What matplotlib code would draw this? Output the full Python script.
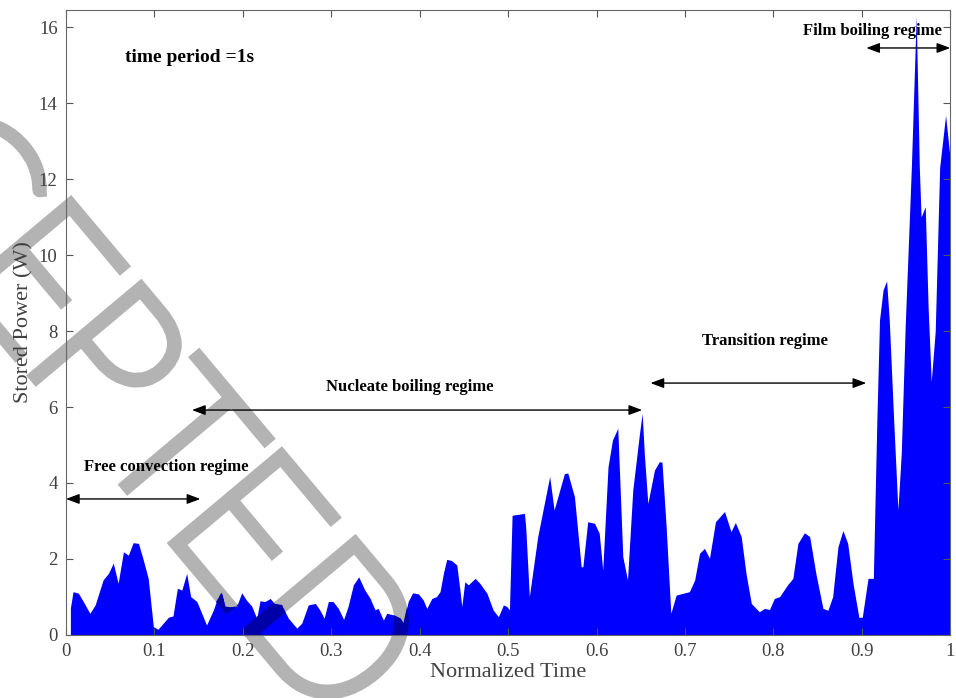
import matplotlib
matplotlib.use("Agg")
import matplotlib.pyplot as plt
import matplotlib.patheffects as pe
import numpy as np

# ---- data ----
norm_time = [
    0.005, 0.005, 0.008, 0.014, 0.0196, 0.027, 0.033, 0.042, 0.048, 0.0535, 0.059,
    0.065, 0.0705, 0.076, 0.082, 0.0875, 0.093, 0.0988, 0.104, 0.110, 0.116,
    0.121, 0.126, 0.131, 0.1365, 0.141, 0.148, 0.159, 0.1667, 0.170, 0.176,
    0.180, 0.1855, 0.193, 0.1987, 0.204, 0.210, 0.2157, 0.2195, 0.225, 0.231,
    0.236, 0.244, 0.2515, 0.261, 0.2666, 0.274, 0.282, 0.287, 0.292, 0.2967,
    0.302, 0.308, 0.314, 0.319, 0.325, 0.331, 0.338, 0.344, 0.3495, 0.353,
    0.359, 0.3627, 0.370, 0.378, 0.3816, 0.387, 0.392, 0.3986, 0.404, 0.408,
    0.4137, 0.419, 0.423, 0.4268, 0.4306, 0.436, 0.442, 0.4457, 0.4476, 0.451,
    0.455, 0.4627, 0.468, 0.476, 0.483, 0.489, 0.4947, 0.4985, 0.5015, 0.5045,
    0.507, 0.5185, 0.520, 0.524, 0.5335, 0.547, 0.552, 0.5637, 0.5675, 0.575,
    0.5826, 0.5845, 0.590, 0.5977, 0.603, 0.607, 0.613, 0.618, 0.624, 0.6297,
    0.635, 0.641, 0.6486, 0.6516, 0.654, 0.658, 0.6655, 0.671, 0.674, 0.6787,
    0.684, 0.690, 0.705, 0.711, 0.7165, 0.722, 0.7277, 0.7345, 0.7447, 0.752,
    0.757, 0.7636, 0.769, 0.775, 0.784, 0.790, 0.7956, 0.801, 0.807, 0.816,
    0.822, 0.8277, 0.835, 0.841, 0.848, 0.856, 0.8616, 0.867, 0.873, 0.8786,
    0.884, 0.890, 0.8967, 0.9005, 0.907, 0.913, 0.917, 0.920, 0.924, 0.928,
    0.931, 0.936, 0.9408, 0.9446, 0.949, 0.956, 0.9615, 0.965, 0.967, 0.9717,
    0.975, 0.9785, 0.983, 0.988, 0.9947, 1.0,
]
stored_power = [
    0.0, 0.71, 1.14, 1.10, 0.88, 0.57, 0.79, 1.45, 1.62, 1.89, 1.36,
    2.19, 2.10, 2.43, 2.41, 1.97, 1.49, 0.22, 0.15, 0.31, 0.47,
    0.50, 1.23, 1.18, 1.62, 1.01, 0.88, 0.26, 0.66, 0.88, 1.11,
    0.75, 0.73, 0.75, 1.11, 0.92, 0.76, 0.44, 0.90, 0.88, 0.96,
    0.82, 0.79, 0.44, 0.18, 0.31, 0.79, 0.83, 0.66, 0.44, 0.88,
    0.88, 0.70, 0.41, 0.75, 1.32, 1.53, 1.18, 0.96, 0.66, 0.70,
    0.39, 0.57, 0.53, 0.44, 0.31, 0.88, 1.11, 1.08, 0.92, 0.70,
    0.96, 1.01, 1.14, 1.62, 1.99, 1.96, 1.84, 1.14, 0.75, 1.40,
    1.32, 1.49, 1.36, 1.10, 0.66, 0.48, 0.79, 0.75, 0.66, 3.15,
    3.16, 3.20, 2.80, 1.01, 2.59, 4.17, 3.29, 4.25, 4.26, 3.64,
    1.80, 1.79, 2.98, 2.94, 2.68, 1.71, 4.43, 5.13, 5.44, 2.06,
    1.45, 3.82, 5.31, 5.83, 4.78, 3.46, 4.34, 4.56, 4.55, 2.85,
    0.57, 1.05, 1.14, 1.45, 2.15, 2.28, 2.02, 2.98, 3.25, 2.72,
    2.96, 2.59, 1.62, 0.83, 0.61, 0.70, 0.67, 0.96, 1.01, 1.32,
    1.49, 2.41, 2.69, 2.59, 1.62, 0.70, 0.65, 1.01, 2.32, 2.75,
    2.41, 1.36, 0.46, 0.47, 1.49, 1.49, 5.66, 8.29, 9.08, 9.32,
    8.29, 5.66, 3.29, 4.78, 8.10, 12.3, 16.3, 12.3, 11.0, 11.27,
    8.60, 6.67, 8.00, 12.3, 13.68, 12.5,
]

x_ticks = [0, 0.1, 0.2, 0.3, 0.4, 0.5, 0.6, 0.7, 0.8, 0.9, 1.0]
x_tick_labels = ["0", "0.1", "0.2", "0.3", "0.4", "0.5", "0.6", "0.7", "0.8", "0.9", "1"]
y_ticks = [0, 2, 4, 6, 8, 10, 12, 14, 16]

regimes = ["Free convection regime", "Nucleate boiling regime",
           "Transition regime", "Film boiling regime"]
regime_label_xy = [(0.113, 4.42), (0.389, 6.53), (0.79, 7.74), (0.912, 15.9)]
regime_arrow_x = [(0.0, 0.152), (0.1425, 0.6516), (0.661, 0.905), (0.905, 1.0)]
regime_arrow_y = [3.58, 5.92, 6.63, 15.45]

# visible part of the "ACCEPTED" watermark
watermark_letters = ["C", "E", "P", "T", "E", "D"]
watermark_offsets = [-338, -218, -111, 0, 110, 242]   # px along the baseline from the "T"

# ---- figure ----
W, H = 956, 698
plt.rcParams["font.family"] = ["Liberation Serif", "DejaVu Serif"]
fig = plt.figure(figsize=(W / 100, H / 100), dpi=100)
ax = fig.add_axes([0.069, 0.0903, 0.925, 0.8954])

fill = ax.fill_between(norm_time, stored_power, 0, color="#0000ff", linewidth=0, zorder=1)

ax.set_xlim(0, 1)
ax.set_ylim(0, 16.45)
ax.set_xticks(x_ticks)
ax.set_xticklabels(x_tick_labels)
ax.set_yticks(y_ticks)
ax.tick_params(direction="in", top=True, right=True, length=5, width=0.8,
               color="#555555", labelsize=13.5, labelcolor="#404040", pad=6)
for s in ax.spines.values():
    s.set_color("#666666")
    s.set_linewidth(0.8)

ax.set_xlabel("Normalized Time", fontsize=16, color="#404040", labelpad=2)
ax.set_ylabel("Stored Power (W)", fontsize=16, color="#404040", labelpad=4)

ax.text(0.067, 15.2, "time period =1s", fontsize=14, fontweight="bold",
        ha="left", va="center", zorder=5)

for name, (tx, ty), (xa, xb), ya in zip(regimes, regime_label_xy, regime_arrow_x, regime_arrow_y):
    ax.text(tx, ty, name, fontsize=12, fontweight="bold", ha="center",
            va="center", zorder=5)
    ax.annotate("", xy=(xb, ya), xytext=(xa, ya), zorder=5,
                arrowprops=dict(arrowstyle="<|-|>,head_length=0.8,head_width=0.3",
                                color="black", lw=1.0, shrinkA=0, shrinkB=0),
                annotation_clip=False)

# watermark, letter by letter along a diagonal baseline (pixel positions)
ang = np.deg2rad(50)
d = np.array([np.cos(ang), np.sin(ang)])          # reading direction (y down)
t_pos = np.array([127.0, 486.0])                   # baseline centre of the "T"
grey = "#b3b3b3"
navy = "#0000a8"
fill_path = fill.get_paths()[0]
for ch, off in zip(watermark_letters, watermark_offsets):
    p = t_pos + off * d
    common = dict(transform=fig.transFigure, fontsize=142,
                  family=["Lato", "DejaVu Sans"], fontweight="light",
                  rotation=-50, rotation_mode="anchor", ha="center", va="baseline")
    ax.text(p[0] / W, 1 - p[1] / H, ch, color=grey, zorder=0.5, clip_on=False,
            path_effects=[pe.withStroke(linewidth=9, foreground=grey,
                                        joinstyle="miter")], **common)
    t2 = ax.text(p[0] / W, 1 - p[1] / H, ch, color=navy, zorder=1.5,
                 path_effects=[pe.withStroke(linewidth=9, foreground=navy,
                                             joinstyle="miter")], **common)
    t2.set_clip_on(True)
    t2.set_clip_path(fill_path, ax.transData)

fig.savefig("out.png", dpi=100)
